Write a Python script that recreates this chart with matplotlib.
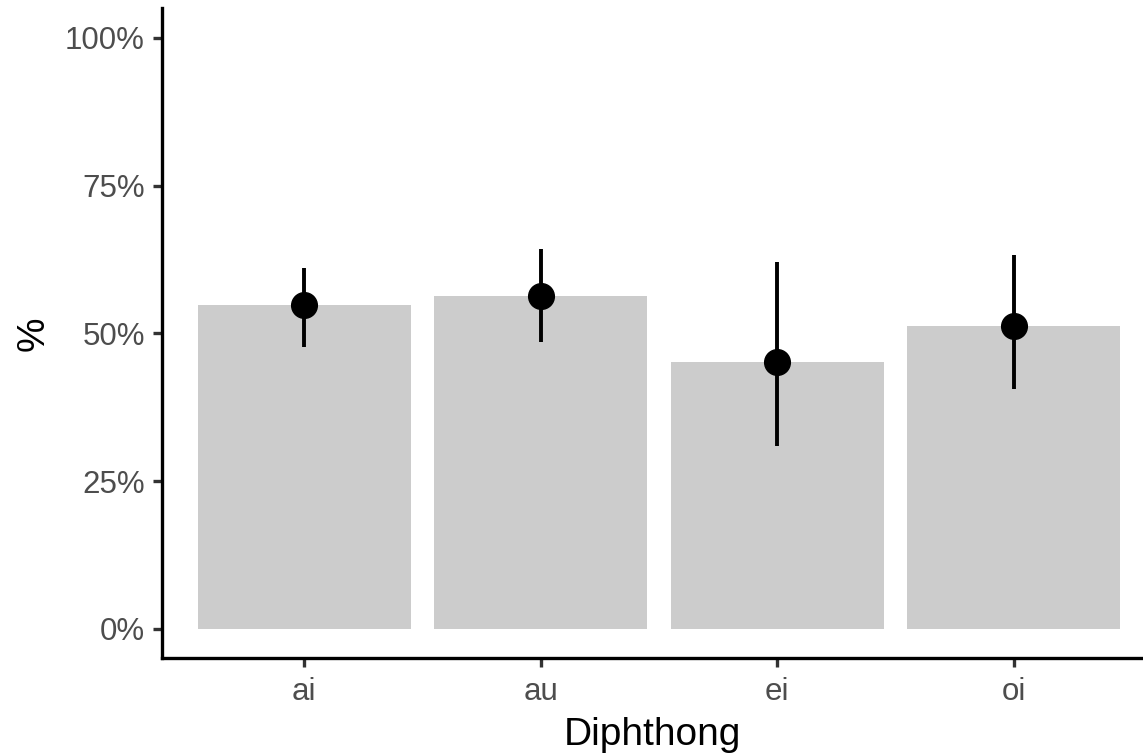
import numpy as np
import matplotlib.pyplot as plt
from matplotlib.ticker import FuncFormatter

plt.rcParams['font.family'] = ['Liberation Sans', 'DejaVu Sans']

diphthongs = ["ai", "au", "ei", "oi"]
means = [54.8, 56.3, 45.1, 51.2]
ci_low = [47.7, 48.5, 30.9, 40.5]
ci_high = [61.1, 64.3, 62.0, 63.2]

x = np.arange(1, len(diphthongs) + 1)

fig = plt.figure(figsize=(11.43, 7.55), dpi=100)
ax = fig.add_axes([162.3 / 1143, (755 - 658.3) / 755, 1 - 162.3 / 1143, (658.3 - 8.3) / 755])

ax.bar(x, means, width=0.9, color="#CCCCCC", zorder=1)
ax.vlines(x, ci_low, ci_high, color="black", linewidth=2.8, zorder=2)
ax.plot(x, means, "o", color="black", markersize=18.5, zorder=3)

ax.set_xlim(0.4, 4.546)
ax.set_ylim(-5, 105)
ax.set_xticks(x)
ax.set_xticklabels(diphthongs)
ax.set_yticks([0, 25, 50, 75, 100])
ax.yaxis.set_major_formatter(FuncFormatter(lambda v, p: f"{v:.0f}%"))

for s in ["top", "right"]:
    ax.spines[s].set_visible(False)
for s in ["left", "bottom"]:
    ax.spines[s].set_linewidth(2.4)
    ax.spines[s].set_color("black")

ax.tick_params(axis="both", length=6.5, width=2.4, color="#333333",
               labelsize=22.5, labelcolor="#4D4D4D")
ax.tick_params(axis="y", pad=6)
ax.tick_params(axis="x", pad=7)

ax.set_xlabel("Diphthong", fontsize=28, labelpad=7)
ax.set_ylabel("%", fontsize=28, labelpad=10)

fig.savefig("out.png", dpi=100)
